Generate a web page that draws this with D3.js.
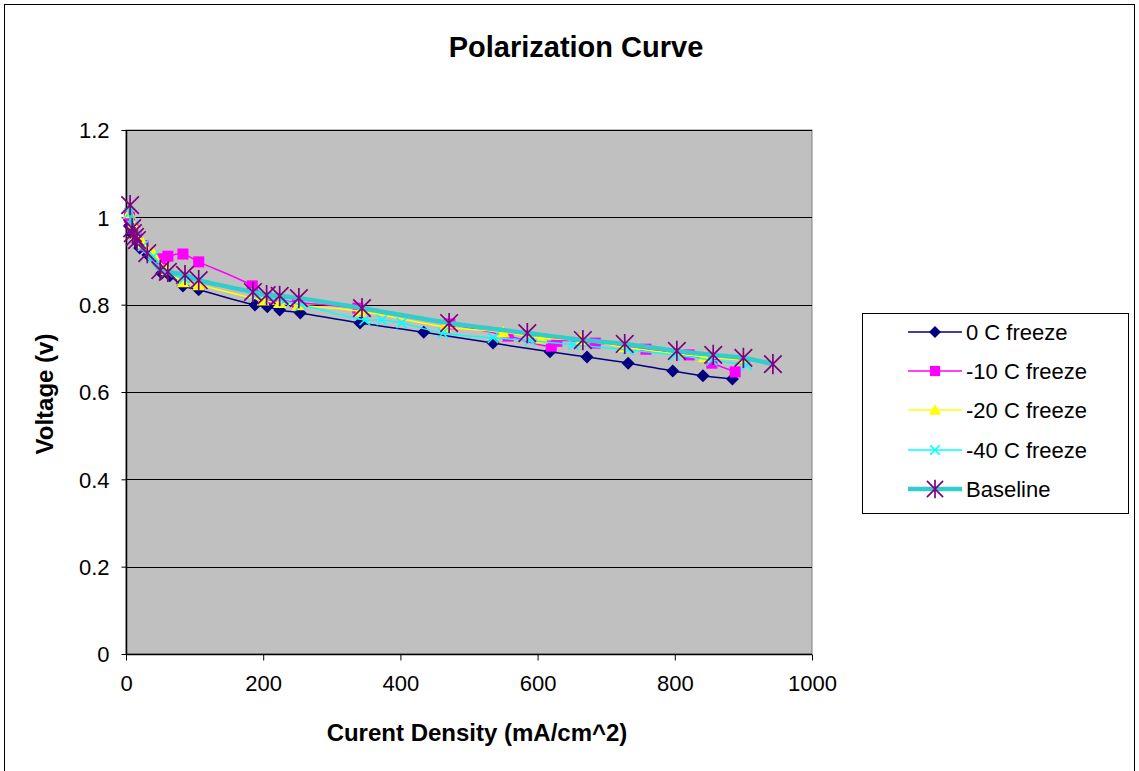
<!DOCTYPE html>
<html>
<head>
<meta charset="utf-8">
<script src="https://cdn.jsdelivr.net/npm/d3@7"></script>
<style>
  html, body { margin: 0; padding: 0; background: #fff; }
  svg { display: block; font-family: Arial, "Liberation Sans", sans-serif; }
</style>
</head>
<body>
<svg id="chart" width="1139" height="771"></svg>
<script>
// Polarization data: current density (mA/cm^2) vs. cell voltage (V)
const zeroC_x = [5, 10, 15, 20, 32, 52, 64, 83, 106, 188, 206, 224, 254, 341, 434, 535, 618, 672, 732, 797, 841, 884];
const zeroC_v = [0.98, 0.96, 0.945, 0.93, 0.914, 0.872, 0.866, 0.843, 0.834, 0.799, 0.795, 0.788, 0.781, 0.758, 0.737, 0.712, 0.692, 0.680, 0.666, 0.648, 0.637, 0.630];

const minus10_x = [5, 10, 15, 25, 50, 61, 83, 106, 184, 205, 225, 250, 338, 472, 557, 620, 628, 684, 758, 821, 854, 888];
const minus10_v = [1.0, 0.975, 0.955, 0.935, 0.905, 0.911, 0.916, 0.898, 0.843, 0.815, 0.81, 0.805, 0.792, 0.756, 0.728, 0.705, 0.716, 0.712, 0.698, 0.685, 0.666, 0.646];

const minus20_x = [5, 10, 15, 25, 40, 60, 83, 106, 200, 224, 251, 341, 465, 550, 606, 662, 725, 843, 899];
const minus20_v = [1.01, 0.985, 0.96, 0.94, 0.915, 0.88, 0.852, 0.845, 0.81, 0.804, 0.799, 0.785, 0.749, 0.737, 0.723, 0.719, 0.703, 0.680, 0.673];

const minus40_x = [5, 10, 15, 25, 40, 60, 85, 105, 190, 210, 230, 255, 348, 373, 402, 462, 535, 589, 652, 732, 800, 854, 905];
const minus40_v = [1.01, 0.98, 0.955, 0.935, 0.91, 0.875, 0.86, 0.857, 0.825, 0.815, 0.808, 0.80, 0.765, 0.765, 0.758, 0.735, 0.724, 0.718, 0.708, 0.696, 0.685, 0.673, 0.662];

const baseline_x = [6, 9, 10, 13, 16, 31, 50, 61, 86, 106, 185, 205, 224, 252, 344, 471, 585, 666, 727, 803, 856, 900, 943];
const baseline_v = [1.028, 0.975, 0.964, 0.955, 0.948, 0.918, 0.879, 0.875, 0.868, 0.856, 0.829, 0.822, 0.820, 0.815, 0.792, 0.758, 0.735, 0.719, 0.710, 0.694, 0.685, 0.678, 0.664];

const seriesNames = ["0 C freeze", "-10 C freeze", "-20 C freeze", "-40 C freeze", "Baseline"];
const xTicks = [0, 200, 400, 600, 800, 1000];
const yTicks = [0, 0.2, 0.4, 0.6, 0.8, 1, 1.2];

const series = [
  { name: seriesNames[0], xs: zeroC_x,    vs: zeroC_v,    line: "#000080", marker: "diamond",  mcolor: "#000080", width: 1.5 },
  { name: seriesNames[1], xs: minus10_x,  vs: minus10_v,  line: "#FF00FF", marker: "square",   mcolor: "#FF00FF", width: 1.5 },
  { name: seriesNames[2], xs: minus20_x,  vs: minus20_v,  line: "#FFFF00", marker: "triangle", mcolor: "#FFFF00", width: 1.5 },
  { name: seriesNames[3], xs: minus40_x,  vs: minus40_v,  line: "#00FFFF", marker: "x",        mcolor: "#00FFFF", width: 1.5 },
  { name: seriesNames[4], xs: baseline_x, vs: baseline_v, line: "#33CCCC", marker: "star",     mcolor: "#800080", width: 4.5 }
];

const svg = d3.select("#chart");
const plot = { left: 126, right: 812, top: 130, bottom: 654 };
const FONT = "Arial, 'Liberation Sans', sans-serif";

const x = d3.scaleLinear().domain([0, 1000]).range([plot.left, plot.right]);
const y = d3.scaleLinear().domain([0, 1.2]).range([plot.bottom, plot.top]);

// Outer chart frame
svg.append("rect").attr("x", 4.5).attr("y", 4.5).attr("width", 1130).attr("height", 800)
  .attr("fill", "#fff").attr("stroke", "#000").attr("stroke-width", 1);

// Plot area
svg.append("rect")
  .attr("x", plot.left).attr("y", plot.top)
  .attr("width", plot.right - plot.left).attr("height", plot.bottom - plot.top)
  .attr("fill", "#C0C0C0").attr("stroke", "#808080").attr("stroke-width", 1);

// Horizontal gridlines
svg.append("g").selectAll("line").data(yTicks.filter(d => d > 0)).join("line")
  .attr("x1", plot.left).attr("x2", plot.right)
  .attr("y1", d => Math.round(y(d)) + 0.5).attr("y2", d => Math.round(y(d)) + 0.5)
  .attr("stroke", "#000").attr("stroke-width", 1);

// Axes
const yAxis = d3.axisLeft(y).tickValues(yTicks).tickSize(5).tickPadding(12)
  .tickFormat(d => d3.format("")(+d.toFixed(1)));
const gy = svg.append("g").attr("transform", `translate(${plot.left + 0.5},0)`).call(yAxis);
const xAxis = d3.axisBottom(x).tickValues(xTicks).tickSize(6).tickPadding(15).tickFormat(d3.format("d"));
const gx = svg.append("g").attr("transform", `translate(0,${plot.bottom + 0.5})`).call(xAxis);

[gy, gx].forEach(g => {
  g.select(".domain").attr("stroke", "#000").attr("stroke-width", 1.5);
  g.selectAll(".tick line").attr("stroke", "#000");
  g.selectAll(".tick text").attr("fill", "#000").attr("font-size", 22).attr("font-family", FONT);
});
gy.select(".domain").attr("d", `M0,${plot.top}V${plot.bottom}`);
gx.select(".domain").attr("d", `M${plot.left},0H${plot.right}`);
gy.selectAll(".tick text").attr("dy", "0.36em");

// Marker shapes
function drawMarker(g, type, color, s) {
  if (type === "diamond") {
    g.append("path").attr("d", `M0,${-s}L${s},0L0,${s}L${-s},0Z`).attr("fill", color);
  } else if (type === "square") {
    g.append("rect").attr("x", -s * 0.85).attr("y", -s * 0.85).attr("width", s * 1.7).attr("height", s * 1.7).attr("fill", color);
  } else if (type === "triangle") {
    g.append("path").attr("d", `M0,${-s}L${s},${s * 0.8}L${-s},${s * 0.8}Z`).attr("fill", color);
  } else if (type === "x") {
    g.append("path").attr("d", `M${-s * 0.8},${-s * 0.8}L${s * 0.8},${s * 0.8}M${s * 0.8},${-s * 0.8}L${-s * 0.8},${s * 0.8}`)
      .attr("stroke", color).attr("stroke-width", 1.6).attr("fill", "none");
  } else if (type === "star") {
    const r = s * 1.35;
    g.append("path").attr("d",
      `M${-r},${-r}L${r},${r}M${r},${-r}L${-r},${r}M0,${-r * 1.15}L0,${r * 1.15}`)
      .attr("stroke", color).attr("stroke-width", 1.7).attr("fill", "none");
  }
}

const lineGen = d3.line()
  .x(d => x(d[0])).y(d => y(d[1]))
  .curve(d3.curveCatmullRom.alpha(0.5));

// Series lines and markers
series.forEach(s => {
  const pts = s.xs.map((xv, i) => [xv, s.vs[i]]);
  const g = svg.append("g");
  g.append("path").datum(pts).attr("d", lineGen)
    .attr("fill", "none").attr("stroke", s.line).attr("stroke-width", s.width);
  g.selectAll("g.mk").data(pts).join("g").attr("class", "mk")
    .attr("transform", d => `translate(${x(d[0])},${y(d[1])})`)
    .each(function () { drawMarker(d3.select(this), s.marker, s.mcolor, 6.5); });
});

// Title and axis titles
svg.append("text").attr("x", 576).attr("y", 57).attr("text-anchor", "middle")
  .attr("font-size", 29).attr("font-weight", "bold").attr("fill", "#000").text("Polarization Curve");
svg.append("text").attr("x", 477).attr("y", 741).attr("text-anchor", "middle")
  .attr("font-size", 24).attr("font-weight", "bold").attr("fill", "#000").text("Curent Density (mA/cm^2)");
svg.append("text").attr("transform", "translate(53,394) rotate(-90)").attr("text-anchor", "middle")
  .attr("font-size", 24).attr("font-weight", "bold").attr("fill", "#000").text("Voltage (v)");

// Legend
const legend = svg.append("g");
legend.append("rect").attr("x", 862.5).attr("y", 313.5).attr("width", 266).attr("height", 200)
  .attr("fill", "#fff").attr("stroke", "#000").attr("stroke-width", 1);
const rowY = [332, 371, 410, 450, 489];
series.forEach((s, i) => {
  const g = legend.append("g").attr("transform", `translate(0,${rowY[i]})`);
  g.append("line").attr("x1", 908).attr("x2", 962).attr("y1", 0).attr("y2", 0)
    .attr("stroke", s.line).attr("stroke-width", s.width);
  const m = g.append("g").attr("transform", "translate(935,0)");
  drawMarker(m, s.marker, s.mcolor, 6);
  g.append("text").attr("x", 966).attr("y", 0).attr("dy", "0.36em")
    .attr("font-size", 22).attr("font-family", FONT).attr("fill", "#000").text(s.name);
});
</script>
</body>
</html>
